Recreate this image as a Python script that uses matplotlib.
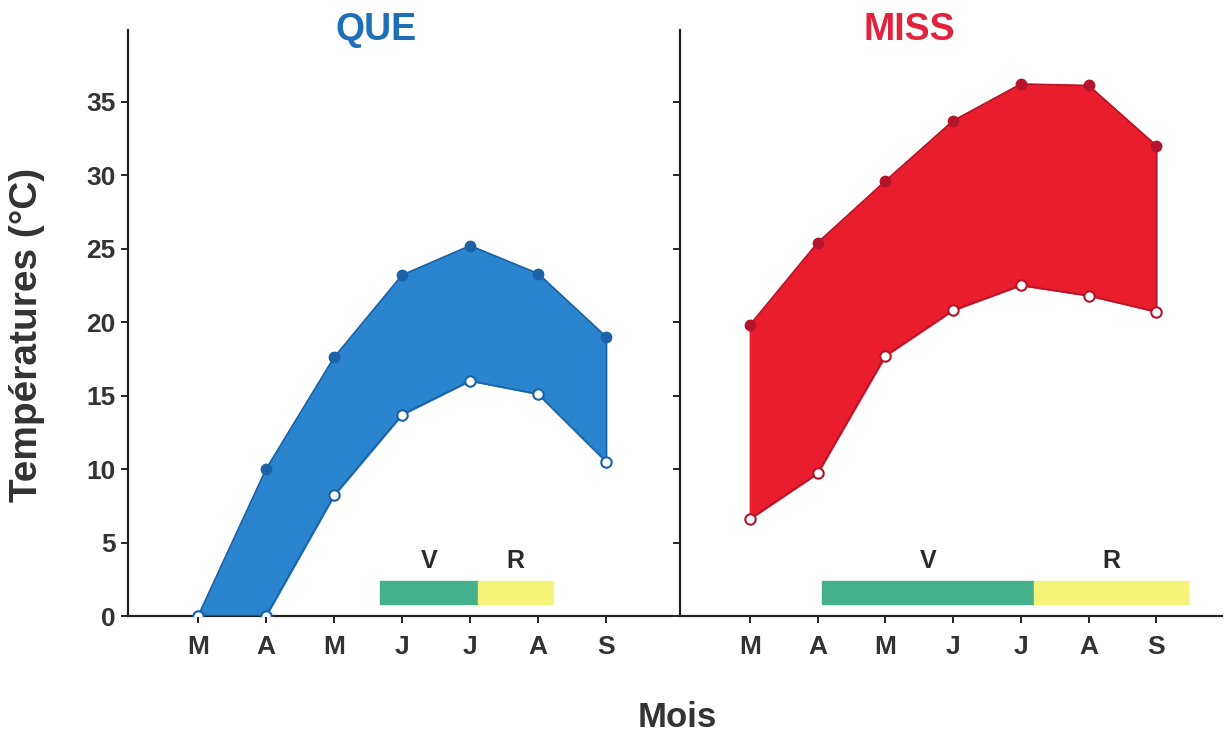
import matplotlib.pyplot as plt
from matplotlib.patches import Rectangle

plt.rcParams['font.family'] = ['Liberation Sans', 'DejaVu Sans']
plt.rcParams['font.weight'] = 'bold'
plt.rcParams['axes.labelweight'] = 'bold'

mois = ['M', 'A', 'M', 'J', 'J', 'A', 'S']

# QUE : températures max / min
que_max = [0.0, 10.0, 17.6, 23.2, 25.2, 23.3, 19.0]
que_min = [0.0, 0.0, 8.2, 13.7, 16.0, 15.1, 10.5]

# MISS : températures max / min
miss_max = [19.8, 25.4, 29.6, 33.7, 36.2, 36.1, 32.0]
miss_min = [6.6, 9.7, 17.7, 20.8, 22.5, 21.8, 20.7]

# périodes végétative (V) et reproductive (R), en position de mois
que_v = (2.68, 4.12)
que_r = (4.12, 5.22)
miss_v = (1.06, 4.19)
miss_r = (4.19, 6.47)

fig = plt.figure(figsize=(12.25, 7.33), dpi=100)
ax1 = fig.add_axes([0.1045, 0.1596, 0.4441, 0.80])
ax2 = fig.add_axes([0.5551, 0.1596, 0.4425, 0.80])

panels = [
    (ax1, 'QUE', 2.62, que_max, que_min, que_v, que_r, '#2B84CE', '#1B62A6', '#1E6FB5'),
    (ax2, 'MISS', 2.35, miss_max, miss_min, miss_v, miss_r, '#EA1D2D', '#B5152A', '#E2233B'),
]

x = list(range(len(mois)))
for ax, nom, xt, tmax, tmin, per_v, per_r, fill, edge, tcol in panels:
    ax.fill_between(x, tmin, tmax, color=fill, zorder=2)
    ax.plot(x, tmax, color=edge, lw=1.2, zorder=3)
    ax.plot(x, tmin, color=edge, lw=1.2, zorder=3)
    ax.plot([x[-1], x[-1]], [tmin[-1], tmax[-1]], color=edge, lw=1.0, zorder=3)
    ax.plot(x, tmax, 'o', ms=7.5, mfc=edge, mec=edge, zorder=4)
    ax.plot(x, tmin, 'o', ms=7.5, mfc='white', mec=edge, mew=1.5, zorder=4)

    # barres V / R
    ax.add_patch(Rectangle((per_v[0], 0.85), per_v[1] - per_v[0], 1.55,
                           color='#45B08C', zorder=2))
    ax.add_patch(Rectangle((per_r[0], 0.85), per_r[1] - per_r[0], 1.55,
                           color='#F4F47A', zorder=2))
    ax.text((per_v[0] + per_v[1]) / 2, 2.9, 'V', ha='center', va='bottom',
            fontsize=18, color='#2a2a2a')
    ax.text((per_r[0] + per_r[1]) / 2, 2.9, 'R', ha='center', va='bottom',
            fontsize=18, color='#2a2a2a')

    ax.text(xt, 1.0, nom, transform=ax.get_xaxis_transform(), ha='center',
            va='center', color=tcol, fontsize=27, fontweight='bold')
    ax.set_xlim(-1.03, 6.97)
    ax.set_ylim(0, 39.9)
    ax.set_xticks(x)
    ax.set_xticklabels(mois)
    ax.set_yticks(range(0, 40, 5))
    for s in ['top', 'right']:
        ax.spines[s].set_visible(False)
    for s in ['left', 'bottom']:
        ax.spines[s].set_linewidth(1.6)
        ax.spines[s].set_color('#222222')
    ax.tick_params(direction='out', length=5, width=1.4, color='#222222',
                   labelsize=19, labelcolor='#333333')
    ax.tick_params(axis='x', pad=9)
    ax.tick_params(axis='y', pad=4)

ax2.tick_params(axis='y', labelleft=False)
ax1.set_ylabel('Températures (°C)', fontsize=28, color='#333333')
ax1.yaxis.set_label_coords(-0.153, 0.48)
fig.text(0.553, 0.021, 'Mois', ha='center', va='center', fontsize=25,
         color='#333333', fontweight='bold')

fig.savefig('out.png', dpi=100)
